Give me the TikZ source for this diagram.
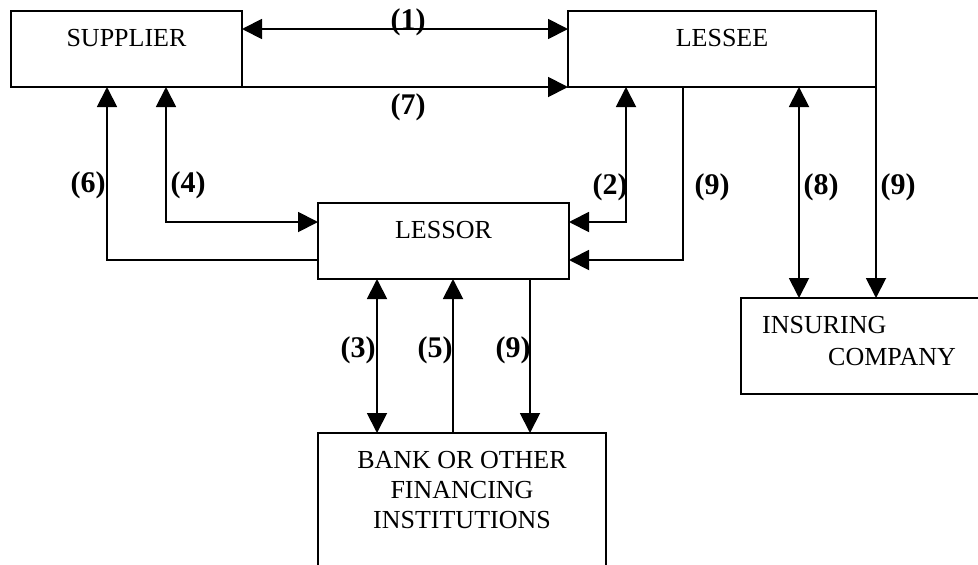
\documentclass[tikz,border=0pt]{standalone}
\usepackage{fontspec}
\setmainfont{Liberation Serif}
\usetikzlibrary{arrows.meta}
\begin{document}
\begin{tikzpicture}[x=1pt,y=-1pt,
  boxnode/.style={draw, line width=1.8pt, inner sep=0pt, outer sep=0pt, anchor=center},
  txt/.style={inner sep=0pt, font=\fontsize{26pt}{30pt}\selectfont},
  lbl/.style={inner sep=0pt, font=\fontsize{30pt}{34pt}\selectfont\bfseries},
  conn/.style={line width=1.9pt},
  tip/.style={-{Triangle[length=20pt,width=20pt]}},
  dbl/.style={{Triangle[length=20pt,width=20pt]}-{Triangle[length=20pt,width=20pt]}}]
\useasboundingbox (0,0) rectangle (978,565);
\clip (0,0) rectangle (978,565);
\fill[white] (0,0) rectangle (978,565);
% boxes
\node[boxnode, minimum width=231pt, minimum height=76pt] (sup) at (126.5,49) {};
\node[boxnode, minimum width=308pt, minimum height=76pt] (les) at (722,49) {};
\node[boxnode, minimum width=251pt, minimum height=76pt] (lsr) at (443.5,241) {};
\node[boxnode, minimum width=288pt, minimum height=187pt] (bank) at (462,526.5) {};
\node[boxnode, minimum width=259pt, minimum height=96pt] (ins) at (870.5,346) {};
% texts
\node[txt] (tsup) at (126.5,38) {SUPPLIER};
\node[txt] (tles) at (722,38) {LESSEE};
\node[txt] (tlsr) at (443.5,230) {LESSOR};
\node[txt] (tb1) at (462,460) {BANK OR OTHER};
\node[txt] (tb2) at (462,490) {FINANCING};
\node[txt] (tb3) at (462,520) {INSTITUTIONS};
\node[txt, anchor=west] (ti1) at (762,325) {INSURING};
\node[txt, anchor=west] (ti2) at (828,357) {COMPANY};
% connectors
\draw[conn, dbl] ([yshift=-18pt]sup.north east) -- ([yshift=-18pt]les.north west);
\draw[conn, tip] (sup.south east) -- (les.south west);
\draw[conn, dbl] ([xshift=58pt]les.south west) |- ([yshift=19pt]lsr.east);
\draw[conn, tip] ([xshift=115pt]les.south west) |- ([yshift=-19pt]lsr.east);
\draw[conn, dbl] ([xshift=231pt]les.south west) -- ([xshift=58pt]ins.north west);
\draw[conn, tip] (les.south east) -- ([xshift=135pt]ins.north west);
\draw[conn, dbl] ([xshift=155pt]sup.south west) |- ([yshift=19pt]lsr.west);
\draw[conn, tip] ([yshift=-19pt]lsr.west) -| ([xshift=96pt]sup.south west);
\draw[conn, dbl] ([xshift=59pt]lsr.south west) -- ([xshift=59pt]bank.north west);
\draw[conn, tip] ([xshift=135pt]bank.north west) -- ([xshift=135pt]lsr.south west);
\draw[conn, tip] ([xshift=212pt]lsr.south west) -- ([xshift=212pt]bank.north west);
% labels
\node[lbl] (l1) at (408,22) {(1)};
\node[lbl] (l7) at (408,107) {(7)};
\node[lbl] (l6) at (88,185) {(6)};
\node[lbl] (l4) at (188,185) {(4)};
\node[lbl] (l2) at (610,187) {(2)};
\node[lbl] (l9a) at (712,187) {(9)};
\node[lbl] (l8) at (821,187) {(8)};
\node[lbl] (l9b) at (898,187) {(9)};
\node[lbl] (l3) at (358,350) {(3)};
\node[lbl] (l5) at (435,350) {(5)};
\node[lbl] (l9c) at (513,350) {(9)};
\end{tikzpicture}
\end{document}
